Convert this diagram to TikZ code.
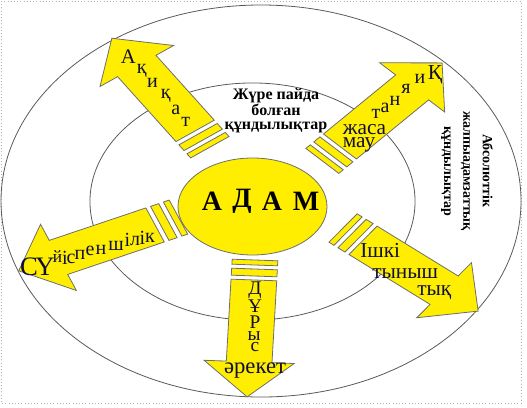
\documentclass[tikz,border=0pt]{standalone}
\usepackage{fontspec}
\setmainfont{Liberation Serif}
\usetikzlibrary{shapes.geometric}
\definecolor{ayellow}{RGB}{255,238,0}
\definecolor{aline}{RGB}{110,110,110}
\definecolor{ink}{RGB}{15,15,55}
\tikzset{
  arrowbody/.style={fill=ayellow, draw=aline, line width=0.6pt},
  ring/.style={draw=black!65, line width=0.6pt},
  letter/.style={inner sep=0pt, text=ink, font=\fontsize{15}{15}\selectfont},
  bigletter/.style={letter, font=\fontsize{16}{16}\selectfont},
  adamletter/.style={inner sep=0pt, text=black, font=\bfseries\fontsize{21}{21}\selectfont},
  word/.style={inner sep=0pt, text=ink, font=\fontsize{16}{16}\selectfont},
}
% tail x (unstretched frame), tail y, angle, length, half shaft, half head, head length
\newcommand\stripearrow[7]{%
  \begin{scope}[shift={(#1,#2)}, rotate=#3]
    \filldraw[arrowbody] (0,-#5) rectangle (5,#5);
    \filldraw[arrowbody] (9,-#5) rectangle (16,#5);
    \filldraw[arrowbody] (20,-#5) -- ({#4-#7},-#5) -- ({#4-#7},-#6) -- (#4,0)
      -- ({#4-#7},#6) -- ({#4-#7},#5) -- (20,#5) -- cycle;
  \end{scope}}
\begin{document}
\begin{tikzpicture}[x=0.75pt, y=-0.75pt]
\useasboundingbox (0,0) rectangle (527,407);
\draw[dotted, black!30] (1,1) rectangle (521,403);
% rings
\draw[ring] (261,201) ellipse [x radius=195pt, y radius=147pt];
\draw[ring] (252.5,201.5) ellipse [x radius=121.9pt, y radius=88.9pt];
% arrows (drawn in an unstretched frame, then stretched horizontally)
\begin{scope}[xscale=1.27]
  \stripearrow{165.2}{147.2}{125.3}{133.5}{18.5}{35.5}{34}
  \stripearrow{253.8}{160.9}{46.1}{136}{18}{35.5}{34}
  \stripearrow{140.5}{217.1}{203.1}{136.7}{18.5}{36}{34}
  \stripearrow{270.1}{228}{-38}{135}{18}{35}{34}
  \stripearrow{200.8}{260}{267.4}{137}{18}{35.5}{35}
\end{scope}
% centre
\node[ellipse, fill=ayellow, draw=aline, line width=0.6pt, minimum width=111.75pt,
  minimum height=72.75pt, inner sep=0pt] (centre) at (252.5,206.5) {};
\node[adamletter] (a1) at (212,201.5) {А};
\node[adamletter] (a2) at (242,201.5) {Д};
\node[adamletter] (a3) at (272,201.5) {А};
\node[adamletter] (a4) at (306,201.5) {М};
% Aқиқат
\node[letter, font=\fontsize{15.5}{15.5}\selectfont] (q1) at (128.3,56.7) {А};
\node[letter] (q2) at (141.7,71) {қ};
\node[letter] (q3) at (152.5,82.5) {и};
\node[letter] (q4) at (165.8,95.5) {қ};
\node[letter] (q5) at (175.8,110) {а};
\node[letter] (q6) at (185.8,121.7) {т};
% Қиянат жасамау
\node[bigletter] (k1) at (435,74.5) {Қ};
\node[letter] (k2) at (420,79) {и};
\node[letter] (k3) at (406,89) {я};
\node[letter] (k4) at (395,101) {н};
\node[letter] (k5) at (385,108) {а};
\node[letter] (k6) at (376,114) {т};
\node[word, anchor=base] (k7) at (364.5,134) {жаса};
\node[word, anchor=base] (k8) at (359,147) {мау};
% Сүйіспеншілік
\node[letter, font=\fontsize{20}{20}\selectfont] (s1) at (29,266.5) {С};
\node[letter, font=\fontsize{20}{20}\selectfont] (s2) at (45,266.5) {Ү};
\node[letter, font=\fontsize{13}{13}\selectfont] (s3) at (57.5,257) {й};
\node[letter] (s4) at (65,258) {і};
\node[letter] (s5) at (71,259) {с};
\node[letter] (s6) at (80,255) {п};
\node[letter] (s7) at (90,251) {е};
\node[letter] (s8) at (101,250) {н};
\node[letter] (s9) at (116,246) {ш};
\node[letter] (s10) at (127.5,240) {і};
\node[letter] (s11) at (135,241) {л};
\node[letter] (s12) at (142.5,238) {і};
\node[letter] (s13) at (150,237.5) {к};
% Ішкі тыныштық
\node[word, anchor=base west] (i1) at (360,257) {Ішкі};
\node[word, anchor=base west] (i2) at (372,278) {тыныш};
\node[word, anchor=base west] (i3) at (417,295) {тық};
% Дұрыс әрекет
\node[letter, font=\fontsize{14.5}{14.5}\selectfont] (d1) at (255,290) {Д};
\node[letter, font=\fontsize{14.5}{14.5}\selectfont] (d2) at (255,306) {Ұ};
\node[letter, font=\fontsize{14.5}{14.5}\selectfont] (d3) at (255,322) {Р};
\node[letter, font=\fontsize{14.5}{14.5}\selectfont] (d4) at (254,336) {ы};
\node[letter, font=\fontsize{14.5}{14.5}\selectfont] (d5) at (255,347) {с};
\node[word, anchor=base, font=\fontsize{17}{17}\selectfont] (d6) at (255,373) {әрекет};
% ring captions
\node[align=center, inner sep=0pt, font=\bfseries\fontsize{12}{10.5}\selectfont] (inner)
  at (276,111) {Жүре пайда\\болған\\құндылықтар};
\node[rotate=-90, align=center, inner sep=0pt, font=\bfseries\fontsize{10.5}{14.6}\selectfont] (outer)
  at (467,171) {Абсолюттік\\жалпыадамзаттық\\құндылықтар};
\end{tikzpicture}
\end{document}
